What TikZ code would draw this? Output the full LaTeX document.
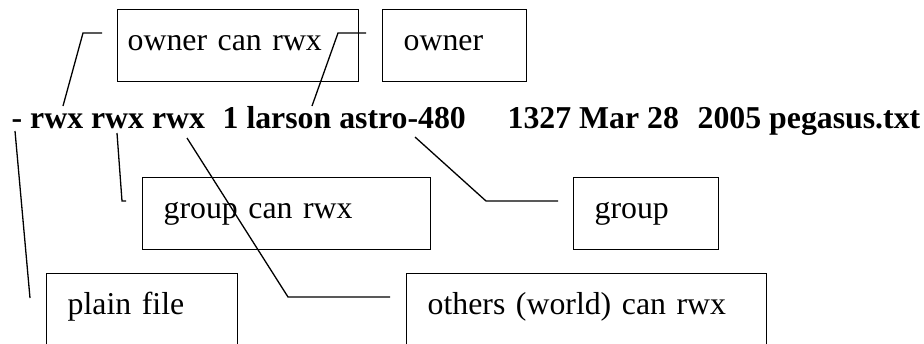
\documentclass[tikz,border=0pt]{standalone}
\usepackage{fontspec}
\setmainfont{Liberation Serif}
\usetikzlibrary{positioning}

\begin{document}
\begin{tikzpicture}[x=1pt,y=-1pt,line width=1.3pt,
	every node/.style={inner sep=0pt,font=\fontsize{31.8pt}{38pt}\selectfont},
	lsline/.style={font=\fontsize{31.8pt}{38pt}\selectfont\bfseries,anchor=base west},
	callout/.style={draw,anchor=north west,inner xsep=21pt,inner ysep=0pt,align=left,text height=41pt,text depth=31pt}]
			\useasboundingbox (0,0) rectangle (924,343);
			\clip (0,0) rectangle (924,343);
			\node[lsline] (perm) at (11,128) {- rwx rwx rwx};
			\node[lsline] (ids) at (222,128) {1 larson astro-480};
			\node[lsline] (stamp) at (507,128) {1327 Mar 28};
			\node[lsline] (file) at (697,128) {2005 pegasus.txt};
			\node[callout,inner xsep=10pt,text width=221pt] (own) at (117,9) {owner can rwx};
			\node[callout,text width=102pt] (usr) at (382,9) {owner};
			\node[callout,text width=246pt] (grpperm) at (142,177) {group can rwx};
			\node[callout,text width=103pt] (grp) at (573,177) {group};
			\node[callout,text width=149pt,text depth=50pt] (plain) at (46,273) {plain file};
			\node[callout,text width=318pt,text depth=50pt] (world) at (406,273) {others (world) can rwx};
			\coordinate (o1) at (102,33);
			\coordinate (o2) at (83,33);
			\coordinate (o3) at (63,106);
			\coordinate (u1) at (366,33);
			\coordinate (u2) at (338,33);
			\coordinate (u3) at (312,106);
			\coordinate (p1) at (15,131);
			\coordinate (p2) at (30,298);
			\coordinate (g1) at (117,133);
			\coordinate (g2) at (122,201);
			\coordinate (g3) at (126,201);
			\coordinate (w1) at (187,138);
			\coordinate (w2) at (288,297);
			\coordinate (w3) at (390,297);
			\coordinate (r1) at (415,137);
			\coordinate (r2) at (486,201);
			\coordinate (r3) at (558,201);
			\draw (o1) -- (o2) -- (o3);
			\draw (u1) -- (u2) -- (u3);
			\draw (p1) -- (p2);
			\draw (g1) -- (g2) -- (g3);
			\draw (w1) -- (w2) -- (w3);
			\draw (r1) -- (r2) -- (r3);
		\end{tikzpicture}
\end{document}
